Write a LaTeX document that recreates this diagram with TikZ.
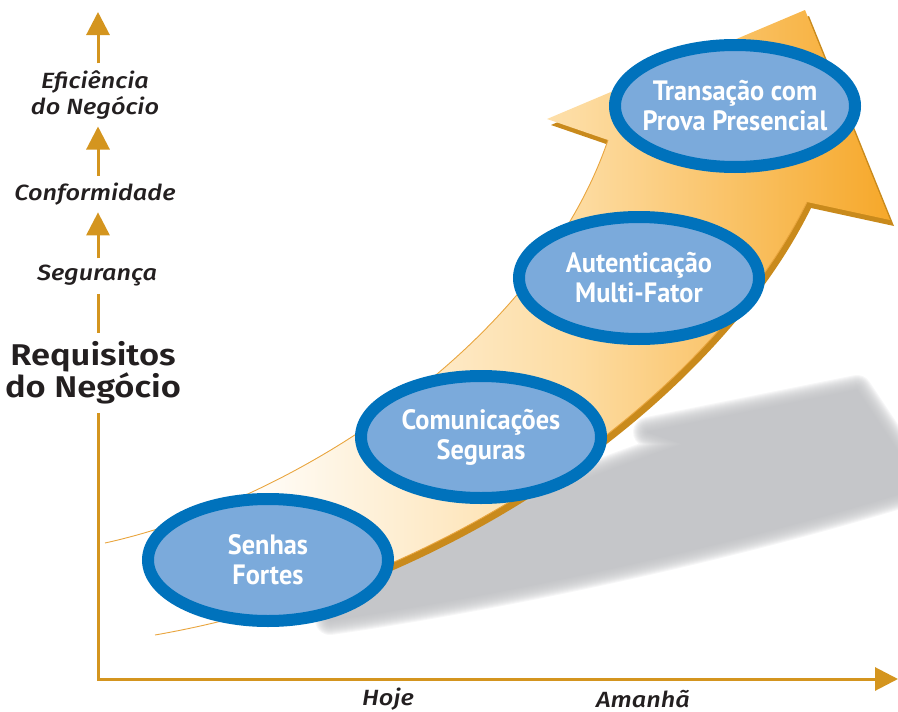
\documentclass[tikz,border=0pt]{standalone}
\usepackage{fontspec}
\setmainfont{Fira Sans}[UprightFont=* Medium, ItalicFont=* Medium Italic, BoldFont=* SemiBold, FakeStretch=1.15]
\newfontfamily\condfont[FakeStretch=0.94]{PT Sans}
\usepackage{tikz}
\usetikzlibrary{arrows.meta,shapes.geometric}
\definecolor{axisgold}{HTML}{D4951F}
\definecolor{ink}{HTML}{231F20}
\definecolor{ringblue}{HTML}{0072BC}
\definecolor{fillblue}{HTML}{7BAADB}
\definecolor{orpale}{HTML}{FDDCA2}
\definecolor{ordeep}{HTML}{F6A82A}
\definecolor{ordark}{HTML}{C98A1C}
\definecolor{oredge}{HTML}{E9A53E}
\definecolor{shadowgray}{HTML}{BEBFC2}
\pgfdeclarehorizontalshading{arrowfill}{100bp}{color(0bp)=(white); color(33bp)=(white);
  color(55bp)=(orpale); color(75bp)=(ordeep); color(100bp)=(ordeep)}
\newcommand{\arrowpath}{(105,543) .. controls (300,500) and (540,340) .. (608,140)
    -- (547,119) -- (805,10) -- (890,220) -- (807,202)
    .. controls (720,380) and (470,580) .. (155,635) -- cycle}
\newcommand{\shadowpath}{(330,620) .. controls (470,600) and (700,555) .. (905,492)
    -- (905,462) -- (857,390) -- (648,432) -- (684,444)
    .. controls (560,485) and (430,545) .. (340,580) -- cycle}
\tikzset{
  axisline/.style={draw=axisgold, line width=3pt},
  tip/.style={-{Triangle[length=23pt,width=23pt]}},
  ylab/.style={text=ink, font=\fontsize{22}{26}\selectfont\itshape, align=center, inner sep=7pt},
  xlab/.style={text=ink, font=\fontsize{22}{26}\selectfont\itshape},
  title/.style={text=ink, font=\fontsize{30}{31}\selectfont\bfseries, align=center, inner sep=8pt},
  stage/.style={ellipse, draw=ringblue, line width=12pt, fill=fillblue,
    minimum width=240pt, minimum height=122pt, inner xsep=-30pt, inner ysep=-15pt,
    text=white, font=\condfont\bfseries\fontsize{28}{30}\selectfont, align=center},
  edge/.style={draw=oredge, line width=0.9pt},
}

\begin{document}
\begin{tikzpicture}[x=1pt,y=-1pt]
  \useasboundingbox (0,0) rectangle (898,712);
  % soft shadow of the arrow
  \foreach \w in {0,2,...,30}{
    \begin{scope}[transparency group, opacity=0.13]
      \filldraw[shadowgray, line width=\w pt, line join=round] \shadowpath;
    \end{scope}
  }
  % the rising arrow
  \begin{scope}
    \clip (390,0) rectangle (898,712);
    \fill[ordark, shift={(4,6)}] \arrowpath;
  \end{scope}
  \shade[shading=arrowfill] \arrowpath;
  \draw[edge] (105,543) .. controls (300,500) and (540,340) .. (608,140);
  \draw[edge] (807,202) .. controls (720,380) and (470,580) .. (155,635);
  % axes and their labels
  \coordinate (O) at (98,679);
  \coordinate (ytop) at (98,12);
  \coordinate (xend) at (898,679);
  \node[ylab] (efic) at (95,95) {Eficiência\\do Negócio};
  \node[ylab] (conf) at (95,194) {Conformidade};
  \node[ylab] (segur) at (97,276) {Segurança};
  \node[title] (req) at (93,373) {Requisitos\\do Negócio};
  \node[xlab] (hoje) at (388,699) {Hoje};
  \node[xlab] (amanha) at (643,699) {Amanhã};
  \draw[axisline,tip] (efic.north -| O) -- (ytop);
  \draw[axisline,tip] (conf.north -| O) -- (efic.south -| O);
  \draw[axisline,tip] (segur.north -| O) -- (conf.south -| O);
  \draw[axisline] (segur.south -| O) -- (req.north -| O);
  \draw[axisline,tip] (req.south -| O) -- (O) -- (xend);
  % stages
  \node[stage] (senhas) at (268,560) {Senhas\\Fortes};
  \node[stage] (comunic) at (481,437) {Comunicações\\Seguras};
  \node[stage] (autent) at (639,278) {Autenticação\\Multi-Fator};
  \node[stage] (transac) at (735,106) {Transação com\\Prova Presencial};
\end{tikzpicture}
\end{document}
